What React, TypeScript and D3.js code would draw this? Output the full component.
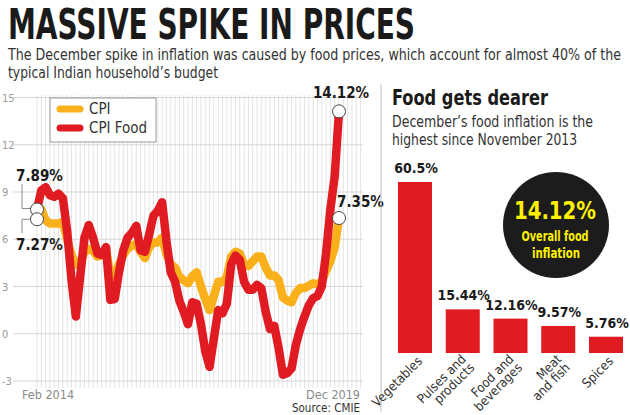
import React from "react";
import * as d3 from "d3";

// ---- Line chart data (monthly, Feb 2014 .. Dec 2019) ----
const cpiFood = [
  7.89, 9.1, 9.3, 8.8, 8.7, 8.9, 8.6, 6.5, 3.4, 1.1, 3.6, 6.1,
  6.9, 6.1, 5.1, 5.0, 5.5, 2.15, 2.2, 3.9, 5.3, 6.1, 6.4, 6.85,
  5.3, 5.2, 6.3, 7.5, 7.8, 8.35, 5.9, 3.9, 3.3, 2.1, 1.4, 0.6,
  2.0, 1.9, 0.6, -1.1, -2.1, -0.3, 1.5, 1.3, 1.9, 4.4, 4.96, 4.7,
  3.3, 2.8, 2.8, 3.1, 2.9, 1.4, 0.3, 0.5, -0.9, -2.6, -2.5, -2.2,
  -0.7, 0.3, 1.1, 1.8, 2.25, 2.4, 3.0, 5.1, 7.9, 10.0, 14.12,
];
const cpi = [
  7.27, 7.9, 7.2, 7.0, 7.0, 7.0, 7.1, 6.0, 5.0, 4.4, 4.5, 5.2,
  5.4, 5.25, 4.9, 5.0, 5.4, 3.7, 3.7, 4.4, 5.0, 5.4, 5.6, 5.7,
  5.2, 4.8, 5.5, 5.8, 5.8, 6.1, 5.05, 4.4, 4.2, 3.6, 3.4, 3.2,
  3.65, 3.9, 3.0, 2.2, 1.5, 2.4, 3.3, 3.3, 3.6, 4.9, 5.2, 5.1,
  4.4, 4.3, 4.6, 4.9, 4.9, 4.2, 3.7, 3.7, 3.4, 2.3, 2.1, 2.0,
  2.6, 2.9, 2.9, 3.05, 3.2, 3.15, 3.3, 4.0, 4.6, 5.5, 7.35,
];
const yTicks = [15, 12, 9, 6, 3, 0, -3];
const firstMonthLabel = "Feb 2014";
const lastMonthLabel = "Dec 2019";
const gridMonths = 76; // monthly grid lines drawn
const seriesNames = ["CPI", "CPI Food"];

// ---- Bar chart data ----
const barCategories = [
  ["Vegetables"],
  ["Pulses and", "products"],
  ["Food and", "beverages"],
  ["Meat", "and fish"],
  ["Spices"],
];
const barValues = [60.5, 15.44, 12.16, 9.57, 5.76];
const barLabels = ["60.5%", "15.44%", "12.16%", "9.57%", "5.76%"];

const YELLOW = "#F9B01A";
const RED = "#E11B22";
const NARROW = "'Liberation Sans Narrow','DejaVu Sans Condensed','Arial Narrow',sans-serif";

export default function App() {
  const x = d3.scaleLinear().domain([0, cpi.length - 1]).range([37, 339]);
  const y = d3.scaleLinear().domain([-3, 15]).range([381, 97.5]);
  const line = d3
    .line<number>()
    .x((_, i) => x(i))
    .y((d) => y(d))
    .curve(d3.curveLinear);

  const xb = d3
    .scaleBand<number>()
    .domain(d3.range(barValues.length))
    .range([398, 623])
    .paddingInner(0.288)
    .paddingOuter(0);
  const yb = d3.scaleLinear().domain([0, 60.5]).range([353, 182]);

  const n = cpi.length - 1;

  return (
    <svg
      width={630}
      height={415}
      style={{ position: "absolute", left: 0, top: 0, background: "#fff" }}
      fontFamily={NARROW}
    >
      <rect x={0} y={0} width={630} height={415} fill="#fff" />
      {/* Title */}
      <text x={8} y={38.5} fontSize={42} fontWeight="bold" fill="#1a1a1a" textLength={407} lengthAdjust="spacingAndGlyphs">
        MASSIVE SPIKE IN PRICES
      </text>
      <text x={8} y={59.5} fontSize={15.5} fill="#333" textLength={613} lengthAdjust="spacingAndGlyphs">
        The December spike in inflation was caused by food prices, which account for almost 40% of the
      </text>
      <text x={8} y={78} fontSize={15.5} fill="#333" textLength={210} lengthAdjust="spacingAndGlyphs">
        typical Indian household’s budget
      </text>

      {/* Vertical grid lines */}
      {d3.range(gridMonths).map((i) => (
        <line key={"vg" + i} x1={x(i)} x2={x(i)} y1={95} y2={388} stroke="#e4e4e4" strokeWidth={1} />
      ))}
      {/* Horizontal grid lines + tick labels */}
      {yTicks.map((t) => (
        <g key={"hg" + t}>
          <line x1={13} x2={363} y1={y(t)} y2={y(t)} stroke="#d6d6d6" strokeWidth={1} />
          <text x={2} y={y(t) + 4} fontSize={11} fill="#9a9a9a">
            {t}
          </text>
        </g>
      ))}

      {/* Lines */}
      <path d={line(cpi) || ""} fill="none" stroke={YELLOW} strokeWidth={8.5} strokeLinejoin="round" strokeLinecap="round" />
      <path d={line(cpiFood) || ""} fill="none" stroke={RED} strokeWidth={8.5} strokeLinejoin="round" strokeLinecap="round" />

      {/* Legend */}
      <rect x={50} y={98} width={106} height={44} fill="#fff" stroke="#9a9a9a" strokeWidth={1} />
      <line x1={60} x2={80} y1={109} y2={109} stroke={YELLOW} strokeWidth={7} strokeLinecap="round" />
      <text x={89} y={114} fontSize={15} fill="#333">{seriesNames[0]}</text>
      <line x1={60} x2={80} y1={128} y2={128} stroke={RED} strokeWidth={7} strokeLinecap="round" />
      <text x={89} y={133} fontSize={15} fill="#333">{seriesNames[1]}</text>

      {/* Start annotations */}
      <polyline points={`22,184 22,${y(cpiFood[0]) - 1} 31,${y(cpiFood[0]) - 1}`} fill="none" stroke="#888" strokeWidth={1} />
      <polyline points={`31,${y(cpi[0])} 22,${y(cpi[0])} 22,233`} fill="none" stroke="#888" strokeWidth={1} />
      <circle cx={x(0)} cy={y(cpiFood[0])} r={6.5} fill="#fff" stroke="#444" strokeWidth={1} />
      <circle cx={x(0)} cy={y(cpi[0])} r={6.5} fill="#fff" stroke="#444" strokeWidth={1} />
      <text x={16} y={181} fontSize={15} fontWeight="bold" fill="#1a1a1a">{cpiFood[0].toFixed(2)}%</text>
      <text x={16} y={250} fontSize={15} fontWeight="bold" fill="#1a1a1a">{cpi[0].toFixed(2)}%</text>

      {/* End annotations */}
      <circle cx={x(n)} cy={y(cpiFood[n])} r={6.5} fill="#fff" stroke="#444" strokeWidth={1} />
      <circle cx={x(n)} cy={y(cpi[n])} r={6.5} fill="#fff" stroke="#444" strokeWidth={1} />
      <text x={x(n) + 2} y={98} fontSize={15} fontWeight="bold" fill="#1a1a1a" textAnchor="middle">{cpiFood[n].toFixed(2)}%</text>
      <text x={x(n) - 2} y={207} fontSize={15} fontWeight="bold" fill="#1a1a1a">{cpi[n].toFixed(2)}%</text>

      {/* Axis end labels */}
      <text x={22} y={399} fontSize={12.5} fill="#8a8a8a">{firstMonthLabel}</text>
      <text x={360} y={399} fontSize={12.5} fill="#8a8a8a" textAnchor="end">{lastMonthLabel}</text>
      <text x={360} y={412} fontSize={11.5} fill="#333" textAnchor="end">Source: CMIE</text>

      {/* Separator */}
      <line x1={381} x2={381} y1={84} y2={412} stroke="#bdbdbd" strokeWidth={1} />

      {/* Right panel */}
      <text x={392} y={105} fontSize={21} fontWeight="bold" fill="#1a1a1a" textLength={156} lengthAdjust="spacingAndGlyphs">
        Food gets dearer
      </text>
      <text x={392} y={127} fontSize={16} fill="#333" textLength={201} lengthAdjust="spacingAndGlyphs">
        December’s food inflation is the
      </text>
      <text x={392} y={145} fontSize={16} fill="#333" textLength={185} lengthAdjust="spacingAndGlyphs">
        highest since November 2013
      </text>

      {/* Bars */}
      {barValues.map((v, i) => {
        const cx = (xb(i) as number) + xb.bandwidth() / 2;
        const lines = barCategories[i];
        return (
          <g key={"bar" + i}>
            <rect x={xb(i)} y={yb(v)} width={xb.bandwidth()} height={yb(0) - yb(v)} fill={RED} />
            <text x={cx + 1} y={yb(v) - 9} fontSize={14} fontWeight="bold" fill="#1a1a1a" textAnchor="middle">
              {barLabels[i]}
            </text>
            {lines.map((s, j) => {
              const ax = cx + 8 + j * 8.5 - (lines.length - 1) * 4;
              const ay = 362 + j * 8.5 - (lines.length - 1) * 2;
              return (
                <text
                  key={j}
                  x={ax}
                  y={ay}
                  fontSize={13}
                  fill="#333"
                  textAnchor="end"
                  transform={`rotate(-45 ${ax} ${ay})`}
                >
                  {s}
                </text>
              );
            })}
          </g>
        );
      })}

      {/* Black circle callout */}
      <circle cx={556} cy={225} r={53} fill="#1c1c1c" />
      <text x={555} y={219} fontSize={25} fontWeight="bold" fill="#FFF200" textAnchor="middle" textLength={82} lengthAdjust="spacingAndGlyphs">
        {cpiFood[n].toFixed(2)}%
      </text>
      <text x={555} y={240.5} fontSize={14} fontWeight="bold" fill="#FFF200" textAnchor="middle" textLength={67} lengthAdjust="spacingAndGlyphs">
        Overall food
      </text>
      <text x={556} y={258} fontSize={14} fontWeight="bold" fill="#FFF200" textAnchor="middle" textLength={48} lengthAdjust="spacingAndGlyphs">
        inflation
      </text>
    </svg>
  );
}
